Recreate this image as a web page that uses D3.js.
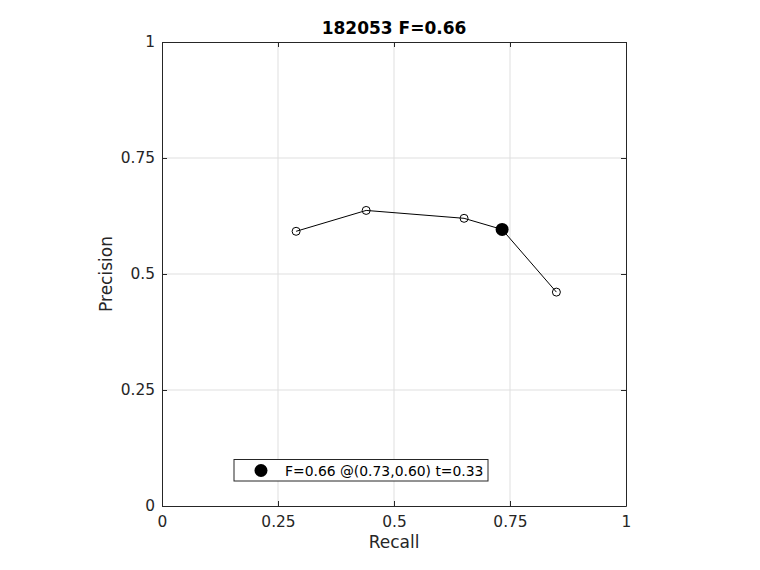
<!DOCTYPE html>
<html><head><meta charset="utf-8">
<script src="https://cdn.jsdelivr.net/npm/d3@7"></script>
<style>body{margin:0;background:#fff;} svg{display:block;font-family:"DejaVu Sans",sans-serif;}</style>
</head><body>
<svg id="c" width="760" height="570"></svg>
<script>
const recall = [0.289, 0.440, 0.651, 0.733, 0.850];
const precision = [0.592, 0.637, 0.620, 0.596, 0.461];
const bestR = 0.733, bestP = 0.596;
const ticks = [0, 0.25, 0.5, 0.75, 1];
const tickLabels = ["0", "0.25", "0.5", "0.75", "1"];
const titleText = "182053 F=0.66";
const legendText = "F=0.66 @(0.73,0.60) t=0.33";

const svg = d3.select("#c");
const L = 162, R = 626, T = 42, B = 506;
const x = d3.scaleLinear().domain([0,1]).range([L,R]);
const y = d3.scaleLinear().domain([0,1]).range([B,T]);
const axCol = "#262626";

// grid
svg.append("g").selectAll("line").data(ticks.slice(1,-1)).join("line")
  .attr("x1", d=>x(d)).attr("x2", d=>x(d)).attr("y1", T).attr("y2", B)
  .attr("stroke", "#dfdfdf").attr("stroke-width", 1);
svg.append("g").selectAll("line").data(ticks.slice(1,-1)).join("line")
  .attr("y1", d=>y(d)).attr("y2", d=>y(d)).attr("x1", L).attr("x2", R)
  .attr("stroke", "#dfdfdf").attr("stroke-width", 1);

// axes
const fmt = (d,i)=>tickLabels[ticks.indexOf(d)];
const xa = svg.append("g").attr("transform", `translate(0,${B})`)
  .call(d3.axisBottom(x).tickValues(ticks).tickFormat(fmt).tickSizeInner(-5).tickSizeOuter(0).tickPadding(10));
const ya = svg.append("g").attr("transform", `translate(${L},0)`)
  .call(d3.axisLeft(y).tickValues(ticks).tickFormat(fmt).tickSizeInner(-5).tickSizeOuter(0).tickPadding(7));
const xt = svg.append("g").attr("transform", `translate(0,${T})`)
  .call(d3.axisTop(x).tickValues(ticks).tickFormat("").tickSizeInner(-5).tickSizeOuter(0));
const yr = svg.append("g").attr("transform", `translate(${R},0)`)
  .call(d3.axisRight(y).tickValues(ticks).tickFormat("").tickSizeInner(-5).tickSizeOuter(0));
[xa,ya,xt,yr].forEach(g=>{
  g.selectAll("path,line").attr("stroke", axCol).attr("stroke-width", 1);
  g.selectAll("text").attr("fill", axCol).style("font-size","15.4px").style("font-family","DejaVu Sans, sans-serif");
});

// line
const pts = recall.map((r,i)=>[r, precision[i]]);
svg.append("path").datum(pts)
  .attr("d", d3.line().x(d=>x(d[0])).y(d=>y(d[1])))
  .attr("fill","none").attr("stroke","#000").attr("stroke-width",1);
svg.append("g").selectAll("circle").data(pts.filter(p=>p[0]!==bestR)).join("circle")
  .attr("cx", d=>x(d[0])).attr("cy", d=>y(d[1])).attr("r", 4)
  .attr("fill","none").attr("stroke","#000").attr("stroke-width",1);
svg.append("circle").attr("cx", x(bestR)).attr("cy", y(bestP)).attr("r", 6.5).attr("fill","#000");

// legend
svg.append("rect").attr("x",234).attr("y",459.5).attr("width",254).attr("height",21.5)
  .attr("fill","#fff").attr("stroke",axCol).attr("stroke-width",1);
svg.append("circle").attr("cx",261).attr("cy",470.5).attr("r",6.5).attr("fill","#000");
svg.append("text").attr("x",285).attr("y",475.5).text(legendText)
  .style("font-size","13.9px").attr("fill","#000");

// title & labels
svg.append("text").attr("x",394).attr("y",34).attr("text-anchor","middle")
  .style("font-size","17px").style("font-weight","bold").attr("fill","#000").text(titleText);
svg.append("text").attr("x",394).attr("y",548).attr("text-anchor","middle")
  .style("font-size","17px").attr("fill",axCol).text("Recall");
svg.append("text").attr("transform","translate(112,274) rotate(-90)").attr("text-anchor","middle")
  .style("font-size","17px").attr("fill",axCol).text("Precision");
</script>
</body></html>
